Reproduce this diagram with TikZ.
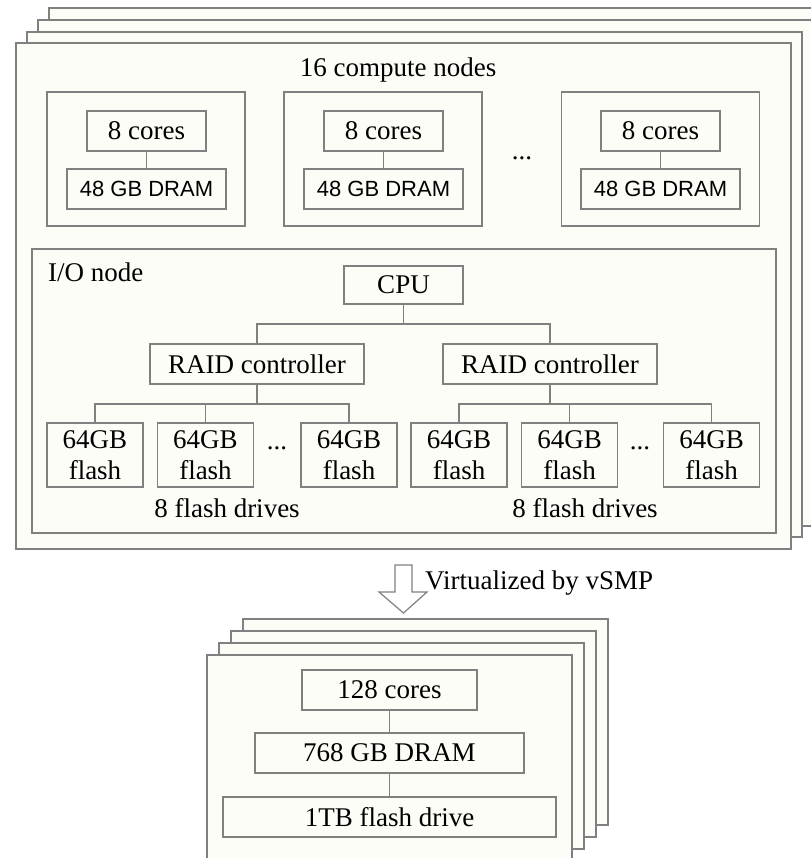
\documentclass[tikz,border=0pt]{standalone}
\usepackage{fontspec}
\setmainfont{Liberation Serif}
\newfontfamily\dramfont{Liberation Sans}
\usepackage{tikz}
\usetikzlibrary{calc}
\definecolor{pagefill}{HTML}{FDFDF7}
\definecolor{edge}{HTML}{808080}

\begin{document}
\begin{tikzpicture}[
    x=1pt, y=-1pt,
    page/.style={draw=edge, line width=1.4pt, fill=pagefill},
    box/.style={draw=edge, line width=1.2pt, fill=pagefill, inner sep=0pt, align=center, font=\fontsize{27}{31}\selectfont},
    cnode/.style={box, minimum width=198pt, minimum height=134pt},
    cores/.style={box, minimum width=119pt, minimum height=40pt},
    dram/.style={box, minimum width=159pt, minimum height=40pt, font=\dramfont\fontsize{22}{26}\selectfont},
    raid/.style={box, minimum width=214pt, minimum height=40pt},
    flash/.style={box, minimum width=96pt, minimum height=64pt},
    lbl/.style={inner sep=0pt, font=\fontsize{27}{31}\selectfont},
    link/.style={draw=edge, line width=1.2pt}
]

\useasboundingbox[fill=white] (0,0) rectangle (810,858);

% --- CLUSTER (stack of pages) ---

\draw[page] (49,8) rectangle (824,514);
\draw[page] (38,20) rectangle (813,526);
\draw[page] (27,32) rectangle (802,537);
\draw[page] (16,43) rectangle (791,549);

\node[lbl] (title) at (398,70) {16 compute nodes};

% compute nodes
\node[cnode] (cn1) at (146,159) {};
\node[cnode] (cn2) at (383,159) {};
\node[cnode] (cn3) at (660.5,159) {};

\node[cores] (cores1) at (146.5,131) {8 cores};
\node[dram] (dram1) at (146.5,189) {48 GB DRAM};
\node[cores] (cores2) at (383.5,131) {8 cores};
\node[dram] (dram2) at (383.5,189) {48 GB DRAM};
\node[cores] (cores3) at (660.5,131) {8 cores};
\node[dram] (dram3) at (660.5,189) {48 GB DRAM};

\node[lbl] (cndots) at (522,158) {...};

\draw[link] (cores1) -- (dram1);
\draw[link] (cores2) -- (dram2);
\draw[link] (cores3) -- (dram3);

% I/O node
\node[box, minimum width=744pt, minimum height=284pt] (io) at (404,391) {};
\node[lbl, anchor=west] (iolabel) at (48,272) {I/O node};

\node[box, minimum width=119pt, minimum height=38pt] (cpu) at (403.5,285) {CPU};
\node[raid] (raid1) at (257,364) {RAID controller};
\node[raid] (raid2) at (550,364) {RAID controller};

\node[flash] (f1) at (95,455) {64GB\\flash};
\node[flash] (f2) at (205.5,455) {64GB\\flash};
\node[flash] (f3) at (349,455) {64GB\\flash};
\node[flash] (f4) at (459,455) {64GB\\flash};
\node[flash] (f5) at (569.5,455) {64GB\\flash};
\node[flash] (f6) at (711.5,455) {64GB\\flash};

\node[lbl] (fdots1) at (277,448) {...};
\node[lbl] (fdots2) at (640,448) {...};

\node[lbl] (drives1) at (227,508) {8 flash drives};
\node[lbl] (drives2) at (585,508) {8 flash drives};

% --- TREE ---

\coordinate (cpubus) at (403.5,324);
\coordinate (raid1bus) at (257,404);
\coordinate (raid2bus) at (550,404);

\draw[link] (cpu) -- (cpubus);
\draw[link] (cpubus) -| (raid1);
\draw[link] (cpubus) -| (raid2);

\draw[link] (raid1) -- (raid1bus);
\draw[link] (raid1bus) -| (f1);
\draw[link] (raid1bus) -| (f2);
\draw[link] (raid1bus) -| (f3);

\draw[link] (raid2) -- (raid2bus);
\draw[link] (raid2bus) -| (f4);
\draw[link] (raid2bus) -| (f5);
\draw[link] (raid2bus) -| (f6);

% --- VIRTUALIZATION ---

\draw[link, fill=white] (395,565) -- (412,565) -- (412,592) -- (427,592)
    -- (403.5,613) -- (379,592) -- (395,592) -- cycle;
\node[lbl, anchor=west] (vsmp) at (425,583) {Virtualized by vSMP};

% --- VIRTUAL MACHINE (stack of pages) ---

\draw[page] (243,619) rectangle (608,825);
\draw[page] (231,631) rectangle (596,837);
\draw[page] (219,643) rectangle (584,849);
\draw[page] (207,655) rectangle (572,870);

\node[box, minimum width=175pt, minimum height=40pt] (vcores) at (389.5,690) {128 cores};
\node[box, minimum width=269pt, minimum height=40pt] (vdram) at (389.5,753) {768 GB DRAM};
\node[box, minimum width=333pt, minimum height=40pt] (vflash) at (389.5,817) {1TB flash drive};

\draw[link] (vcores) -- (vdram);
\draw[link] (vdram) -- (vflash);

\end{tikzpicture}
\end{document}
